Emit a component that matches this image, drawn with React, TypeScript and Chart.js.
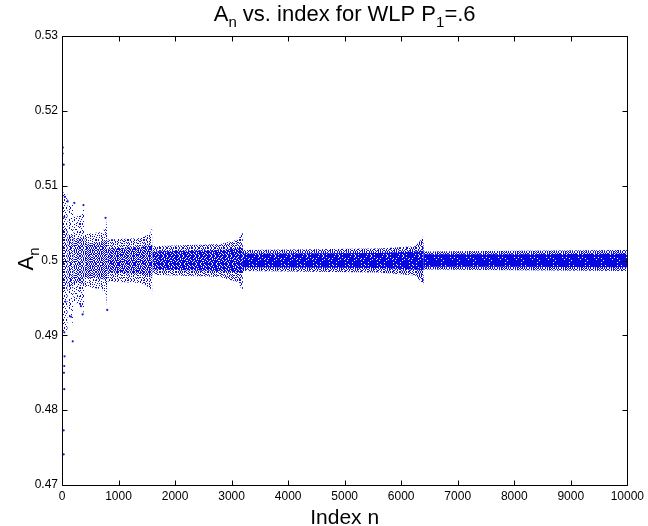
import { useEffect, useRef } from 'react'
import { Chart, registerables, type ChartConfiguration, type Plugin } from 'chart.js'

Chart.register(...registerables)

const FONT = '"Liberation Sans", Arial, Helvetica, sans-serif'

const xTicks = [0, 1000, 2000, 3000, 4000, 5000, 6000, 7000, 8000, 9000, 10000]
const yTicks = [0.47, 0.48, 0.49, 0.5, 0.51, 0.52, 0.53]

// the cloud of A_n values, one block per doubling of n (0-100, 100-200, ... 6400-10000)
// edges: outer = scattered fringe, core = dense middle
const segmentIndex = [
  [0, 100],
  [100, 170, 200],
  [200, 350, 400],
  [400, 700, 780, 800],
  [800, 1400, 1560, 1600],
  [1600, 2800, 3120, 3200],
  [3200, 5600, 6250, 6400],
  [6400, 8000, 10000],
]
const outerUpper = [
  [0.5092, 0.5088],
  [0.5075, 0.5072, 0.5078],
  [0.5058, 0.506, 0.5076],
  [0.5035, 0.5038, 0.5045, 0.5058],
  [0.5028, 0.503, 0.5036, 0.5046],
  [0.5019, 0.5022, 0.5028, 0.5039],
  [0.5014, 0.5016, 0.5019, 0.5032],
  [0.5012, 0.5013, 0.5014],
]
const outerLower = [
  [0.4902, 0.4908],
  [0.4925, 0.4922, 0.491],
  [0.4945, 0.494, 0.4926],
  [0.4965, 0.4962, 0.4955, 0.4935],
  [0.4972, 0.497, 0.4963, 0.4954],
  [0.4981, 0.4978, 0.4971, 0.4957],
  [0.4986, 0.4984, 0.498, 0.4968],
  [0.4988, 0.4987, 0.4986],
]
const coreUpper = [
  [0.5045, 0.5042],
  [0.5035, 0.5033, 0.5035],
  [0.503, 0.503, 0.5034],
  [0.5022, 0.5024, 0.5027, 0.503],
  [0.5016, 0.5018, 0.5021, 0.5022],
  [0.5012, 0.5014, 0.5016, 0.5017],
  [0.5009, 0.501, 0.5012, 0.5013],
  [0.50085, 0.50085, 0.5009],
]
const coreLower = [
  [0.4958, 0.496],
  [0.4965, 0.4965, 0.4962],
  [0.497, 0.497, 0.4966],
  [0.4978, 0.4976, 0.4973, 0.497],
  [0.4984, 0.4982, 0.4979, 0.4978],
  [0.4988, 0.4986, 0.4984, 0.4983],
  [0.4991, 0.499, 0.4988, 0.4987],
  [0.49915, 0.49915, 0.4991],
]

// stray early values far from 0.5
const strayIndex = [12, 15, 30, 50, 100, 218, 380, 770, 40, 60, 160, 365, 190, 40, 45, 40, 35, 40, 30, 30, 800, 335]
const strayValue = [
  0.5143, 0.5151, 0.5128, 0.5085, 0.5079, 0.5077, 0.5074, 0.5057, 0.5058, 0.4945, 0.4925,
  0.4928, 0.4892, 0.4904, 0.4872, 0.4859, 0.485, 0.4828, 0.4773, 0.4741, 0.4934, 0.4939,
]

// how thickly the dots cover each block (fraction of pixels)
const outerDensity = [0.16, 0.18, 0.2, 0.25, 0.3, 0.38, 0.45, 0.5]
const coreDensity = [0.38, 0.42, 0.46, 0.52, 0.62, 0.78, 0.9, 0.94]

// fixed 8x8 threshold table for the speckle texture
const speckle = [
  [12, 47, 3, 58, 21, 36, 9, 52],
  [40, 27, 61, 17, 44, 1, 63, 30],
  [5, 55, 33, 8, 50, 25, 14, 42],
  [49, 19, 45, 28, 62, 11, 57, 23],
  [35, 2, 60, 13, 38, 6, 31, 46],
  [16, 53, 24, 41, 20, 54, 43, 0],
  [59, 29, 10, 51, 32, 15, 26, 37],
  [7, 39, 48, 4, 56, 34, 18, 22],
]

function dotPattern(ctx: CanvasRenderingContext2D, density: number) {
  const tile = document.createElement('canvas')
  tile.width = 16
  tile.height = 16
  const t = tile.getContext('2d')!
  const img = t.createImageData(16, 16)
  for (let r = 0; r < 16; r++) {
    for (let c = 0; c < 16; c++) {
      const i = r % 8
      const j = c % 8
      const q = (r < 8 ? 0 : 2) + (c < 8 ? 0 : 1)
      const th = q === 0 ? speckle[i][j] : q === 1 ? speckle[j][i] : q === 2 ? speckle[7 - i][j] : speckle[i][7 - j]
      if (th < density * 64) {
        const o = (r * 16 + c) * 4
        img.data[o] = 8
        img.data[o + 1] = 8
        img.data[o + 2] = 225
        img.data[o + 3] = 255
      }
    }
  }
  t.putImageData(img, 0, 0)
  return ctx.createPattern(tile, 'repeat')!
}

const blockOf = (x: number) => {
  for (let k = 0; k < segmentIndex.length; k++) {
    const s = segmentIndex[k]
    if (x < s[s.length - 1]) return k
  }
  return segmentIndex.length - 1
}

const joined = (vals: number[][]) =>
  segmentIndex.flatMap((idx, k) => idx.map((x, i) => ({ x, y: vals[k][i] })))

const decorations: Plugin<'line'> = {
  id: 'matlabFrame',
  afterDraw(chart) {
    const { ctx, chartArea: a, scales } = chart
    const xs = scales.x
    const ys = scales.y
    ctx.save()
    ctx.strokeStyle = '#000'
    ctx.lineWidth = 1
    ctx.beginPath()
    const L = Math.round(a.left) + 0.5
    const R = Math.round(a.right) + 0.5
    const T = Math.round(a.top) + 0.5
    const B = Math.round(a.bottom) + 0.5
    ctx.rect(L, T, R - L, B - T)
    const tl = 5
    xTicks.forEach(v => {
      const px = Math.round(xs.getPixelForValue(v)) + 0.5
      ctx.moveTo(px, B)
      ctx.lineTo(px, B - tl)
      ctx.moveTo(px, T)
      ctx.lineTo(px, T + tl)
    })
    yTicks.forEach(v => {
      const py = Math.round(ys.getPixelForValue(v)) + 0.5
      ctx.moveTo(L, py)
      ctx.lineTo(L + tl, py)
      ctx.moveTo(R, py)
      ctx.lineTo(R - tl, py)
    })
    ctx.stroke()

    ctx.fillStyle = '#000'
    ctx.textBaseline = 'alphabetic'
    ctx.textAlign = 'left'

    // title with subscripts
    const big = `22px ${FONT}`
    const small = `15px ${FONT}`
    const parts: [string, boolean][] = [['A', false], ['n', true], [' vs. index for WLP P', false], ['1', true], ['=.6', false]]
    let total = 0
    parts.forEach(([t, sub]) => {
      ctx.font = sub ? small : big
      total += ctx.measureText(t).width
    })
    let cx = (a.left + a.right) / 2 - total / 2
    parts.forEach(([t, sub]) => {
      ctx.font = sub ? small : big
      ctx.fillText(t, cx, sub ? 27 : 21)
      cx += ctx.measureText(t).width
    })

    // x label
    ctx.font = `21px ${FONT}`
    ctx.textAlign = 'center'
    ctx.fillText('Index n', (a.left + a.right) / 2, 524)

    // y label
    ctx.translate(33, 259)
    ctx.rotate(-Math.PI / 2)
    ctx.textAlign = 'left'
    ctx.font = big
    const wA = ctx.measureText('A').width
    ctx.font = small
    const wn = ctx.measureText('n').width
    const start = -(wA + wn) / 2
    ctx.font = big
    ctx.fillText('A', start, 0)
    ctx.font = small
    ctx.fillText('n', start + wA, 6)
    ctx.restore()
  },
}

export default function App() {
  const canvasRef = useRef<HTMLCanvasElement>(null)
  const chartRef = useRef<Chart | null>(null)

  useEffect(() => {
    if (!canvasRef.current) return
    chartRef.current?.destroy()
    const ctx = canvasRef.current.getContext('2d')
    if (!ctx) return

    const outerFill = outerDensity.map(d => dotPattern(ctx, d))
    const coreFill = coreDensity.map(d => dotPattern(ctx, d))
    const byBlock = (fills: CanvasPattern[]) => (c: any) => fills[blockOf((c.p0.parsed.x + c.p1.parsed.x) / 2)]

    const base = { pointRadius: 0, borderWidth: 1, borderColor: 'transparent', tension: 0 }
    const datasets: any[] = [
      { ...base, data: joined(outerUpper), fill: '+1', backgroundColor: outerFill[0], segment: { backgroundColor: byBlock(outerFill) } },
      { ...base, data: joined(outerLower), fill: false },
      { ...base, data: joined(coreUpper), fill: '+1', backgroundColor: coreFill[0], segment: { backgroundColor: byBlock(coreFill) } },
      { ...base, data: joined(coreLower), fill: false },
      {
        type: 'scatter',
        data: strayIndex.map((x, i) => ({ x, y: strayValue[i] })),
        pointRadius: 1.1,
        pointBorderWidth: 0,
        pointBackgroundColor: '#1a1ac8',
        showLine: false,
      },
    ]

    const tickFont = { family: FONT, size: 12 }

    const config: ChartConfiguration<'line'> = {
      type: 'line',
      data: { datasets },
      options: {
        responsive: true,
        maintainAspectRatio: false,
        animation: false,
        layout: { padding: { top: 36, right: 17, left: 0, bottom: 0 } },
        scales: {
          x: {
            type: 'linear',
            min: 0,
            max: 10000,
            grid: { display: false, drawTicks: false },
            border: { display: false },
            afterBuildTicks: s => { s.ticks = xTicks.map(value => ({ value })) },
            afterFit: s => { s.height = 41 },
            ticks: { font: tickFont, color: '#000', padding: 4, autoSkip: false, maxRotation: 0, callback: v => String(v) },
          },
          y: {
            type: 'linear',
            min: 0.47,
            max: 0.53,
            grid: { display: false, drawTicks: false },
            border: { display: false },
            afterBuildTicks: s => { s.ticks = yTicks.map(value => ({ value })) },
            afterFit: s => { s.width = 62 },
            ticks: { font: tickFont, color: '#000', padding: 4, callback: v => String(Number(Number(v).toFixed(2))) },
          },
        },
        plugins: {
          legend: { display: false },
          tooltip: { enabled: false },
          title: { display: false },
        },
      },
      plugins: [decorations],
    }

    chartRef.current = new Chart(ctx, config)
    return () => {
      chartRef.current?.destroy()
      chartRef.current = null
    }
  }, [])

  return (
    <div style={{ position: 'fixed', left: 0, top: 0, width: 648, height: 526, background: '#fff' }}>
      <canvas ref={canvasRef} />
    </div>
  )
}
